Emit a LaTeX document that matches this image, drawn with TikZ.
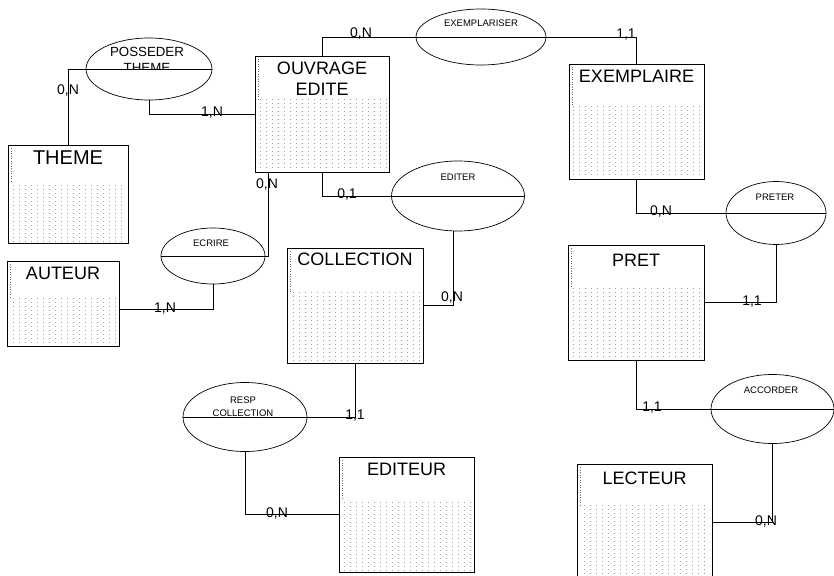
\documentclass[tikz,border=0pt]{standalone}
\usepackage{fontspec}
\setmainfont{Liberation Sans}
\usetikzlibrary{positioning,shapes.geometric,patterns}

% dot grid for the attribute area of the entities
\pgfdeclarepatternformonly{erdots}{\pgfpointorigin}{\pgfpoint{5.6pt}{3.5pt}}{\pgfpoint{5.6pt}{3.5pt}}%
  {\pgfpathrectangle{\pgfpoint{2.4pt}{1.4pt}}{\pgfpoint{0.7pt}{0.7pt}}\pgfusepath{fill}}

\tikzset{
  entite/.style={draw, line width=0.8pt, inner sep=0pt,
    path picture={
      \fill[pattern=erdots, pattern color=black!60]
        ([xshift=2pt,yshift=2pt]path picture bounding box.south west) rectangle
        ([xshift=-2pt,yshift=-#1pt]path picture bounding box.north east);
      \draw[dotted, line width=0.5pt, black!60]
        ([xshift=3pt,yshift=-3pt]path picture bounding box.north west) --
        ([xshift=3pt,yshift=-#1pt]path picture bounding box.north west);
    }},
  titre/.style={inner sep=0pt, align=center, font=\fontsize{18}{21}\selectfont},
  assoc/.style={ellipse, draw, line width=0.7pt, inner sep=0pt},
  assoctxt/.style={inner sep=0pt, align=center, font=\fontsize{9.5}{12.5}\selectfont},
  lien/.style={line width=0.8pt},
  card/.style={inner sep=0pt, font=\fontsize{14}{14}\selectfont}
}

\begin{document}
\begin{tikzpicture}[x=1pt,y=-1pt]
\useasboundingbox (0,0) rectangle (834,575);
\clip (0,0) rectangle (834,575);

% entites
\node[entite=37, minimum width=120pt, minimum height=98pt] (theme) at (68,194) {};
\node[titre, font=\fontsize{20}{22}\selectfont, below=6pt of theme.north] (theme-t) {THEME};
\node[entite=44, minimum width=134pt, minimum height=116pt] (ouvrage) at (322,114) {};
\node[titre, below=6pt of ouvrage.north] (ouvrage-t) {OUVRAGE\\EDITE};
\node[entite=43, minimum width=135pt, minimum height=115pt] (exemplaire) at (636.5,121.5) {};
\node[titre, below=6pt of exemplaire.north] (exemplaire-t) {EXEMPLAIRE};
\node[entite=36, minimum width=112pt, minimum height=85pt] (auteur) at (63,303.5) {};
\node[titre, below=6pt of auteur.north] (auteur-t) {AUTEUR};
\node[entite=44, minimum width=136pt, minimum height=115pt] (collection) at (355,305.5) {};
\node[titre, below=5pt of collection.north] (collection-t) {COLLECTION};
\node[entite=43, minimum width=136pt, minimum height=115pt] (pret) at (636,302.5) {};
\node[titre, below=9pt of pret.north] (pret-t) {PRET};
\node[entite=43, minimum width=135pt, minimum height=115pt] (editeur) at (406.5,514.5) {};
\node[titre, below=6pt of editeur.north] (editeur-t) {EDITEUR};
\node[entite=41, minimum width=135pt, minimum height=116pt] (lecteur) at (644.5,522) {};
\node[titre, below=8pt of lecteur.north] (lecteur-t) {LECTEUR};

% associations
\node[assoc, minimum width=126pt, minimum height=62pt] (posseder) at (149,69) {};
\node[assoc, minimum width=130pt, minimum height=56pt] (exemplariser) at (481,37) {};
\node[assoc, minimum width=133pt, minimum height=70pt] (editer) at (458,196) {};
\node[assoc, minimum width=104pt, minimum height=56pt] (ecrire) at (213,256) {};
\node[assoc, minimum width=100pt, minimum height=63pt] (preter) at (776,213) {};
\node[assoc, minimum width=124pt, minimum height=69pt] (resp) at (245,417) {};
\node[assoc, minimum width=123pt, minimum height=69pt] (accorder) at (772.5,409) {};
\foreach \r in {posseder,exemplariser,editer,ecrire,preter,resp,accorder}
  \draw[line width=0.7pt] (\r.west) -- (\r.east);

\begin{scope}
\clip (posseder.north west) rectangle (posseder.east);
\node[assoctxt, font=\fontsize{13.3}{16.5}\selectfont, anchor=north] (posseder-t) at (147,47) {POSSEDER\\THEME};
\end{scope}
\node[assoctxt] (exemplariser-t) at (481,23) {EXEMPLARISER};
\node[assoctxt] (editer-t) at (458,177) {EDITER};
\node[assoctxt] (ecrire-t) at (211,243) {ECRIRE};
\node[assoctxt] (preter-t) at (775,197) {PRETER};
\node[assoctxt] (resp-t) at (243,406.5) {RESP\\COLLECTION};
\node[assoctxt] (accorder-t) at (771,390) {ACCORDER};

% liens
\draw[lien] (theme.north) |- (posseder.west);
\draw[lien] (posseder.south) |- (ouvrage.west);
\draw[lien] (ouvrage.north) |- (exemplariser.west);
\draw[lien] (exemplariser.east) -| (exemplaire.north);
\draw[lien] (ouvrage.south) |- (editer.west);
\draw[lien] ([xshift=-54pt]ouvrage.south) |- (ecrire.east);
\draw[lien] (ecrire.south) |- ([yshift=-6pt]auteur.east);
\draw[lien] ([xshift=-5pt]editer.south) |- (collection.east);
\draw[lien] (collection.south) |- (resp.east);
\draw[lien] (resp.south) |- (editeur.west);
\draw[lien] (exemplaire.south) |- (preter.west);
\draw[lien] (preter.south) |- (pret.east);
\draw[lien] (pret.south) |- (accorder.west);
\draw[lien] (accorder.south) |- (lecteur.east);

% cardinalites
\node[card] (c1) at (68,91) {0,N};
\node[card] (c2) at (212,113) {1,N};
\node[card] (c3) at (361,34) {0,N};
\node[card] (c4) at (626,35) {1,1};
\node[card] (c5) at (347,195) {0,1};
\node[card] (c6) at (267,185) {0,N};
\node[card] (c7) at (165,309) {1,N};
\node[card] (c8) at (452,298) {0,N};
\node[card] (c9) at (355,416) {1,1};
\node[card] (c10) at (277,514) {0,N};
\node[card] (c11) at (661,212) {0,N};
\node[card] (c12) at (752,302) {1,1};
\node[card] (c13) at (652,408) {1,1};
\node[card] (c14) at (766,522) {0,N};
\end{tikzpicture}
\end{document}
